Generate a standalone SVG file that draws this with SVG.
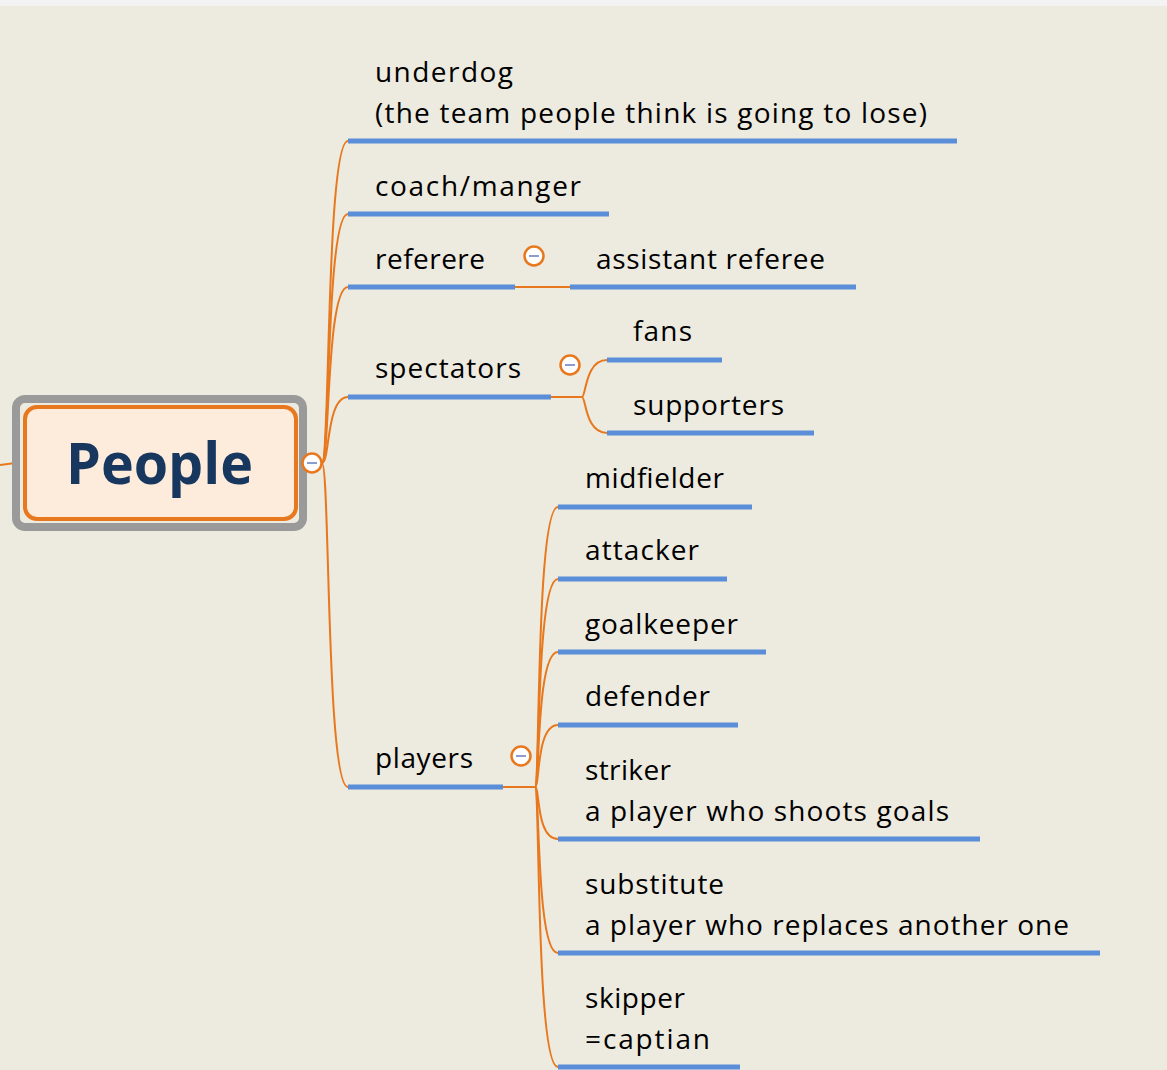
<svg xmlns="http://www.w3.org/2000/svg" width="1167" height="1070" viewBox="0 0 1167 1070">
<style>
text{font-family:"Open Sans","Noto Sans","DejaVu Sans",sans-serif;font-size:28px;fill:#000}
.ul{stroke:#5A8ED8;stroke-width:5;fill:none}
.cn{stroke:#E8781E;stroke-width:2;fill:none}
.tg circle{fill:#fff;stroke:#E8781E;stroke-width:2.5}
.tg line{stroke:#8C9BD0;stroke-width:2}
</style>
<defs>
<g id="toggle" class="tg"><circle cx="0" cy="0" r="9.5"/><line x1="-5" y1="0" x2="5" y2="0"/></g>
</defs>
<rect width="1167" height="1070" fill="#EDEADF"/>
<rect width="1167" height="6" fill="#F3F3F3"/>
<g id="connectors">
<path class="cn" d="M0 465 L23 462"/>
<path class="cn" d="M322 463 C330 463 326 141 348 141"/>
<path class="cn" d="M322 463 C330 463 326 214 348 214"/>
<path class="cn" d="M322 463 C330 463 326 287 348 287"/>
<path class="cn" d="M322 463 C330 463 326 397 348 397"/>
<path class="cn" d="M322 463 C330 463 326 787 348 787"/>
<path class="cn" d="M515 287 L570 287"/>
<path class="cn" d="M551 397 L582 397"/>
<path class="cn" d="M582 397 C586 397 585 360 607 360"/>
<path class="cn" d="M582 397 C586 397 585 433 607 433"/>
<path class="cn" d="M503 787 L535 787"/>
<path class="cn" d="M535 787 C540 787 536 507 558 507"/>
<path class="cn" d="M535 787 C540 787 536 579 558 579"/>
<path class="cn" d="M535 787 C540 787 536 652 558 652"/>
<path class="cn" d="M535 787 C540 787 536 725 558 725"/>
<path class="cn" d="M535 787 C540 787 536 839 558 839"/>
<path class="cn" d="M535 787 C540 787 536 953 558 953"/>
<path class="cn" d="M535 787 C540 787 536 1067 558 1067"/>
</g>
<g id="people">
<rect x="16" y="399" width="287" height="128" rx="9" fill="#EDEADF" stroke="#9A9A9A" stroke-width="8"/>
<rect x="25" y="407" width="271" height="112" rx="12" fill="#FDEBDC" stroke="#E8781E" stroke-width="4"/>
<text x="66" y="484" style="font-size:58px;font-weight:bold;fill:#17375E" textLength="187" lengthAdjust="spacingAndGlyphs">People</text>
<use href="#toggle" x="312" y="463"/>
</g>
<g id="underdog">
<text x="375" y="82" textLength="138">underdog</text>
<text x="375" y="123" textLength="552">(the team people think is going to lose)</text>
<path class="ul" d="M348 141 H957"/>
</g>
<g id="coach">
<text x="375" y="196" textLength="206">coach/manger</text>
<path class="ul" d="M348 214 H609"/>
</g>
<g id="referere">
<text x="375" y="269" textLength="110">referere</text>
<path class="ul" d="M348 287 H515"/>
<use href="#toggle" x="534" y="256"/>
</g>
<g id="assistant">
<text x="596" y="269" textLength="229">assistant referee</text>
<path class="ul" d="M570 287 H856"/>
</g>
<g id="spectators">
<text x="375" y="378" textLength="146">spectators</text>
<path class="ul" d="M348 397 H551"/>
<use href="#toggle" x="570" y="365"/>
</g>
<g id="fans">
<text x="633" y="341" textLength="59">fans</text>
<path class="ul" d="M607 360 H722"/>
</g>
<g id="supporters">
<text x="633" y="415" textLength="151">supporters</text>
<path class="ul" d="M607 433 H814"/>
</g>
<g id="players">
<text x="375" y="768" textLength="98">players</text>
<path class="ul" d="M348 787 H503"/>
<use href="#toggle" x="521" y="756"/>
</g>
<g id="midfielder">
<text x="585" y="488" textLength="139">midfielder</text>
<path class="ul" d="M558 507 H752"/>
</g>
<g id="attacker">
<text x="585" y="560" textLength="114">attacker</text>
<path class="ul" d="M558 579 H727"/>
</g>
<g id="goalkeeper">
<text x="585" y="634" textLength="153">goalkeeper</text>
<path class="ul" d="M558 652 H766"/>
</g>
<g id="defender">
<text x="585" y="706" textLength="125">defender</text>
<path class="ul" d="M558 725 H738"/>
</g>
<g id="striker">
<text x="585" y="780" textLength="86">striker</text>
<text x="585" y="821" textLength="364">a player who shoots goals</text>
<path class="ul" d="M558 839 H980"/>
</g>
<g id="substitute">
<text x="585" y="894" textLength="139">substitute</text>
<text x="585" y="935" textLength="484">a player who replaces another one</text>
<path class="ul" d="M558 953 H1100"/>
</g>
<g id="skipper">
<text x="585" y="1008" textLength="100">skipper</text>
<text x="585" y="1049" textLength="125">=captian</text>
<path class="ul" d="M558 1067 H740"/>
</g>
</svg>
